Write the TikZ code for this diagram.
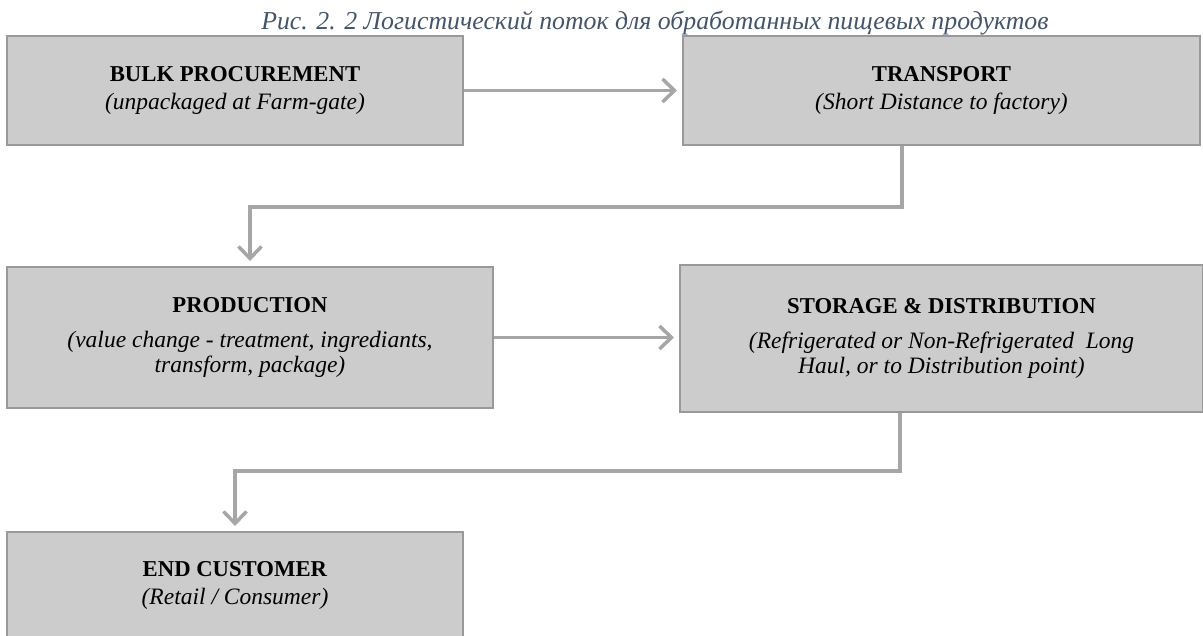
\documentclass[tikz,border=0pt]{standalone}
\usepackage{fontspec}
\setmainfont{Liberation Serif}
\usetikzlibrary{arrows.meta}
\definecolor{capblue}{HTML}{44546A}
\begin{document}
\begin{tikzpicture}[x=1pt, y=-1pt,
    stage/.style={draw=gray!80, line width=2pt, fill=gray!40, align=center,
                  inner sep=0pt, font=\fontsize{23.5}{25}\selectfont},
    flow/.style={draw=gray!70, line width=3.5pt,
                 -{Straight Barb[length=12pt, width=23pt]}, shorten >=5pt}]
    \clip (0,0) rectangle (1203,636);

    % caption above the chart
    \node[anchor=base east, text=capblue, font=\itshape\fontsize{25.8}{28}\selectfont] (caption) at (1052,30)
        {Рис. 2. 2 Логистический поток для обработанных пищевых продуктов};

    % the five stages
    \node[stage, minimum width=456pt, minimum height=109pt] (bulk) at (235,90.5)
        {\textbf{\fontsize{22.7}{25}\selectfont BULK PROCUREMENT}\\[3pt]\textit{(unpackaged at Farm-gate)}};
    \node[stage, minimum width=517pt, minimum height=109pt] (transport) at (941.5,90.5)
        {\textbf{\fontsize{22.7}{25}\selectfont TRANSPORT}\\[3pt]\textit{(Short Distance to factory)}};
    \node[stage, minimum width=486pt, minimum height=141pt] (prod) at (250,337.5)
        {\textbf{\fontsize{22.7}{25}\selectfont PRODUCTION}\\[10pt]\textit{(value change - treatment, ingrediants,}\\\textit{transform, package)}};
    \node[stage, minimum width=523pt, minimum height=147pt] (storage) at (941.5,338.5)
        {\textbf{\fontsize{22.7}{25}\selectfont STORAGE \& DISTRIBUTION}\\[10pt]\textit{(Refrigerated or Non-Refrigerated\ \ Long}\\\textit{Haul, or to Distribution point)}};
    \node[stage, minimum width=456pt, minimum height=106pt] (customer) at (235,585)
        {\textbf{\fontsize{22.7}{25}\selectfont END CUSTOMER}\\[3pt]\textit{(Retail / Consumer)}};

    % flow between the stages
    \draw[flow] (bulk) -- (transport);
    \draw[flow] ([xshift=-39.5pt]transport.south) -- ++(0,61) -| (prod.north);
    \draw[flow] (prod.east) -- (prod.east -| storage.west);
    \draw[flow] ([xshift=-41.5pt]storage.south) -- ++(0,58) -| (customer.north);
\end{tikzpicture}
\end{document}
